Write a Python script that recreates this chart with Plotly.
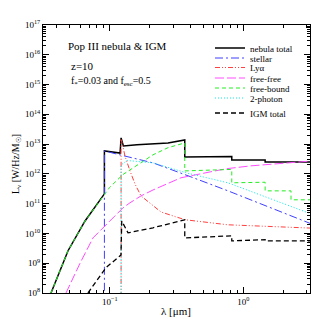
import plotly.graph_objects as go

# ---- data (wavelength in micron, log10 L_nu in W/Hz/Msun) ----
lam_total = [0.0363, 0.0487, 0.0653, 0.0800, 0.0912, 0.0912, 0.1195, 0.1216, 0.1265, 0.160, 0.273, 0.3646, 0.3646, 0.8204, 0.8204, 1.4585, 1.4585, 3.2]
logL_total = [8.0, 9.42, 10.42, 10.95, 11.33, 12.77, 12.70, 13.21, 12.94, 12.98, 13.04, 13.14, 12.57, 12.58, 12.47, 12.47, 12.40, 12.40]

lam_stellar = [0.0912, 0.0912, 0.1216, 0.2108, 0.400, 0.769, 3.2]
logL_stellar = [7.0, 12.77, 12.63, 12.37, 11.91, 11.43, 10.33]

lam_lya = [0.1216, 0.1216, 0.1245, 0.130, 0.1418, 0.155, 0.1714, 0.2109, 0.2421, 0.3663, 0.647, 0.769, 3.2]
logL_lya = [7.0, 13.15, 13.0, 12.6, 12.1, 11.65, 11.26, 10.93, 10.72, 10.46, 10.32, 10.29, 10.18]

lam_ff = [0.0470, 0.0599, 0.0749, 0.0845, 0.0970, 0.1257, 0.1418, 0.1714, 0.2109, 0.3418, 0.647, 0.769, 1.143, 3.2]
logL_ff = [8.0, 9.0, 9.85, 10.09, 10.35, 10.86, 11.03, 11.26, 11.46, 11.87, 12.12, 12.18, 12.27, 12.43]

lam_fb = [0.0363, 0.0487, 0.0653, 0.0800, 0.0912, 0.100, 0.1257, 0.1685, 0.2108, 0.273, 0.3646, 0.3646, 0.8204, 0.8204, 1.4585, 1.4585, 2.279, 2.279, 3.2]
logL_fb = [8.0, 9.42, 10.42, 10.95, 11.33, 11.55, 11.98, 12.37, 12.64, 12.88, 13.04, 12.10, 12.15, 11.70, 11.72, 11.43, 11.43, 11.13, 11.13]

lam_2ph = [0.1216, 0.1216, 0.135, 0.2108, 0.3855, 0.769, 3.2]
logL_2ph = [7.0, 12.30, 12.45, 12.37, 12.02, 11.70, 10.66]

lam_igm = [0.0687, 0.0937, 0.1214, 0.1216, 0.1230, 0.137, 0.2109, 0.3646, 0.3646, 0.8204, 0.8204, 1.4585, 1.4585, 3.2]
logL_igm = [8.0, 8.85, 9.28, 10.30, 10.42, 10.02, 10.19, 10.46, 9.85, 9.92, 9.75, 9.79, 9.75, 9.75]

ytick_exp = list(range(8, 18))
xtick_vals = [0.1, 1.0]
xtick_text = ["10<sup>−1</sup>", "10<sup>0</sup>"]

FONT = "Liberation Serif"

# name, x, y, colour, dash, width, legend row (pixel y of the row centre)
series = [
    ("nebula total", lam_total, logL_total, "black", "solid", 1.5, 40),
    ("stellar", lam_stellar, logL_stellar, "#3f3fff", "8px,3px,2px,3px", 1.0, 50),
    ("Lyα", lam_lya, logL_lya, "#ff4040", "5px,2px,1px,2px,1px,2px", 1.0, 59.5),
    ("free-free", lam_ff, logL_ff, "#ff4cff", "9px,3px", 1.0, 70),
    ("free-bound", lam_fb, logL_fb, "#22ee22", "4px,3px", 1.0, 80),
    ("2-photon", lam_2ph, logL_2ph, "#00eeee", "1px,2px", 1.0, 90),
    ("IGM total", lam_igm, logL_igm, "black", "5px,3px", 1.3, 105),
]

L, R, T, B = 35, 17, 17, 34
W = H = 319
pw, ph = W - L - R, H - T - B


def px(x):
    return (x - L) / pw


def py(y):
    return (H - B - y) / ph


fig = go.Figure()
legends = {}
for i, (name, lx, ly, col, dash, w, row) in enumerate(series):
    key = "legend" if i == 0 else "legend%d" % (i + 1)
    fig.add_trace(go.Scatter(
        x=lx, y=[10 ** v for v in ly], mode="lines", name=name,
        line=dict(color=col, dash=dash, width=w), legend=key,
    ))
    legends[key] = dict(x=px(202), y=py(row), xanchor="left", yanchor="middle",
                        bgcolor="rgba(0,0,0,0)", borderwidth=0,
                        font=dict(family=FONT, size=9, color="black"))

minor_x = [m * 10 ** e for e in (-2, -1, 0) for m in range(2, 10)]
minor_y = [m * 10 ** e for e in range(7, 17) for m in range(2, 10)]

axis_common = dict(
    type="log", showline=True, linecolor="black", linewidth=1, mirror="allticks",
    ticks="inside", ticklen=6, tickcolor="black", showgrid=False, zeroline=False,
    tickfont=dict(family=FONT, size=9, color="black"),
)

fig.update_xaxes(
    **axis_common, range=[-1.5, 0.5], tickmode="array", tickvals=xtick_vals, ticktext=xtick_text,
    minor=dict(ticks="inside", ticklen=3, tickcolor="black", tickmode="array", tickvals=minor_x),
)
fig.update_yaxes(
    **axis_common, range=[8, 17], tickmode="array",
    tickvals=[10 ** e for e in ytick_exp],
    ticktext=["10<sup>%d</sup>" % e for e in ytick_exp],
    minor=dict(ticks="inside", ticklen=3, tickcolor="black", tickmode="array", tickvals=minor_y),
)

annos = [
    ("Pop III nebula &amp; IGM", 58, 38, 11, 0, "left"),
    ("z=10", 61, 58, 11, 0, "left"),
    ("f<sub>*</sub>=0.03 and f<sub>esc</sub>=0.5", 61, 73, 10, 0, "left"),
    ("λ [μm]", 168, 303, 11, 0, "center"),
    ("L<sub>ν</sub> [W/Hz/M<sub>☉</sub>]", 8, 156, 10, -90, "center"),
]
for txt, x, y, s, ang, xa in annos:
    fig.add_annotation(text=txt, x=px(x), y=py(y), xref="paper", yref="paper",
                       xanchor=xa, yanchor="middle", showarrow=False, textangle=ang,
                       font=dict(family=FONT, size=s, color="black"))

fig.update_layout(
    width=W, height=H, margin=dict(l=L, r=R, t=T, b=B, autoexpand=False),
    paper_bgcolor="white", plot_bgcolor="white",
    showlegend=True,
    **legends,
)

fig.write_html("out.html")
